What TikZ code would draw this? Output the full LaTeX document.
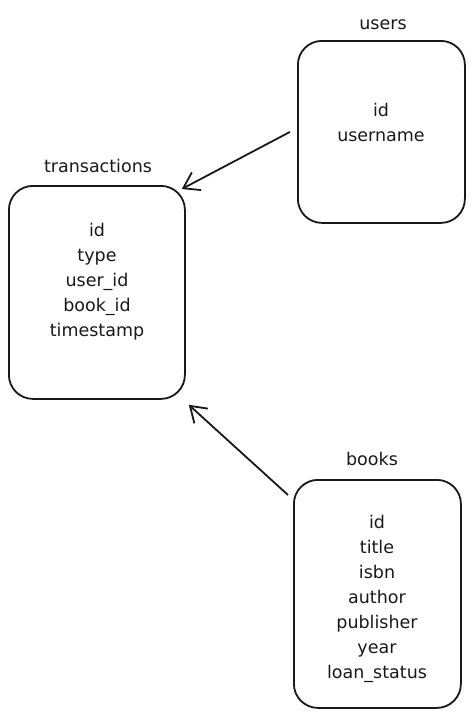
\documentclass[tikz,border=0pt]{standalone}
\usepackage{fontspec}
\setmainfont{DejaVu Sans}
\usetikzlibrary{arrows.meta,calc}
\begin{document}
\begin{tikzpicture}[x=1pt,y=-1pt,
  tbl/.style={draw=black!90,line width=1.8pt,rounded corners=24pt,anchor=north west,inner sep=0pt},
  lbl/.style={font=\fontsize{17.5}{25}\selectfont,align=center,anchor=center,inner sep=0pt,text=black!90},
  arr/.style={draw=black!90,line width=1.8pt,-{Straight Barb[length=15pt,width=20pt,line width=1.8pt]}}]
\useasboundingbox (0,0) rectangle (473,724);
% boxes
\node[tbl,minimum width=167pt,minimum height=182pt] (users) at (297,40) {};
\node[tbl,minimum width=176pt,minimum height=213pt] (tx) at (8,185) {};
\node[tbl,minimum width=167pt,minimum height=228pt] (books) at (293,479) {};
% titles
\node[lbl] (usersT) at (383,25) {users};
\node[lbl] (txT) at (98,166) {transactions};
\node[lbl] (booksT) at (372,459) {books};
% fields
\node[lbl] (usersF) at (381,122) {id\\username};
\node[lbl] (txF) at (97,282) {id\\type\\user\_id\\book\_id\\timestamp};
\node[lbl] (booksF) at (377,599) {id\\title\\isbn\\author\\publisher\\year\\loan\_status};
% connectors
\draw[arr] ($(users.west)+(-7,0)$) -- ($(tx.north east)+(-4,4)$);
\draw[arr] ($(books.north west)+(-5,16)$) -- ($(tx.south east)+(3,5)$);
\end{tikzpicture}
\end{document}
